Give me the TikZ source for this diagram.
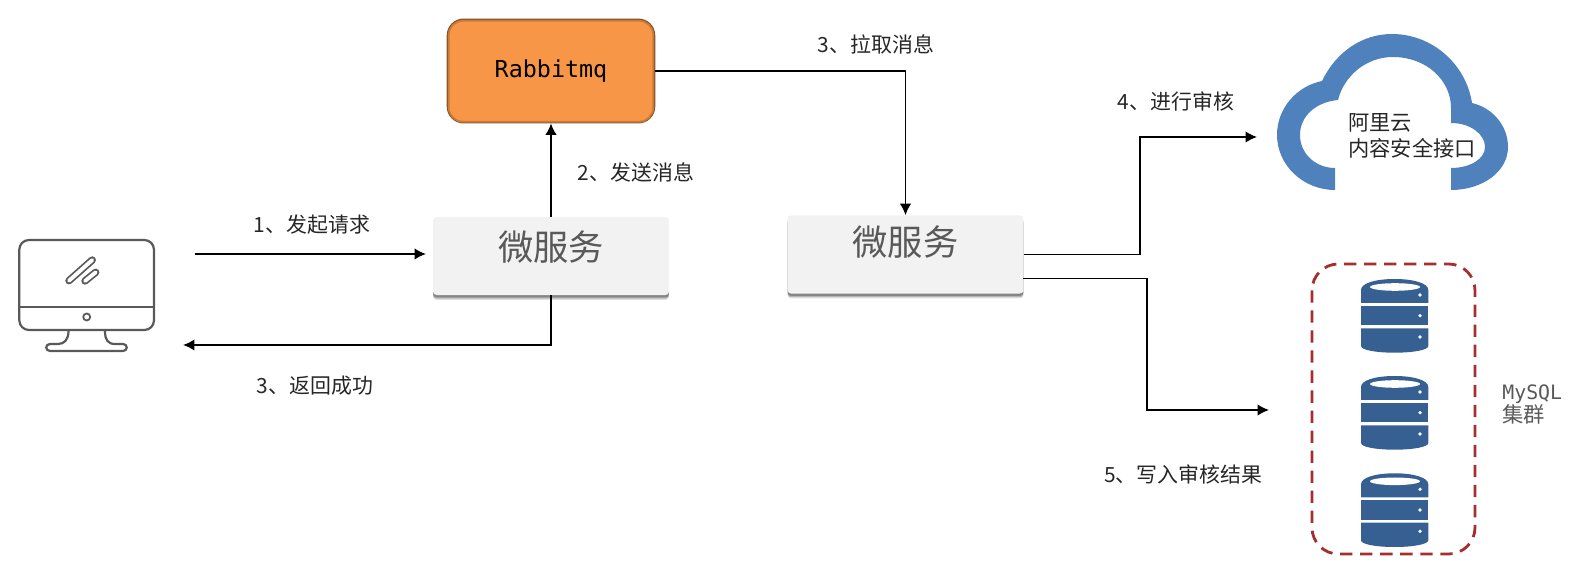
\documentclass[tikz,border=0pt]{standalone}
\usepackage{fontspec}
\setmainfont{Noto Sans CJK SC}
\setmonofont{DejaVu Sans Mono}
\usepackage{xcolor}
\usetikzlibrary{arrows, arrows.meta, shadows}
\definecolor{cloudblue}{HTML}{4F81BD}
\definecolor{dbblue}{HTML}{366092}
\definecolor{iconGray}{HTML}{595959}
\definecolor{frameRed}{HTML}{A52F2F}
\definecolor{mqOrange}{HTML}{F79646}
\tikzset{
  flow/.style={-{Latex[length=6.5pt,width=6.5pt]},line width=0.9pt,black},
  steplabel/.style={font=\fontsize{11.9}{14}\selectfont,text=black!85},
  svcbox/.style={fill=black!5,rounded corners=2pt,minimum width=134.3pt,minimum height=44.4pt,
    inner sep=0pt,text=iconGray,font=\fontsize{20.1}{24}\selectfont,text height=17pt,text depth=12pt,
    drop shadow={shadow xshift=0pt,shadow yshift=-2.8pt,opacity=.12,fill=black},
    drop shadow={shadow xshift=0pt,shadow yshift=-2.1pt,opacity=.2,fill=black},
    drop shadow={shadow xshift=0pt,shadow yshift=-1.4pt,opacity=.25,fill=black}},
  mqbox/.style={draw=mqOrange!55!black,line width=1.2pt,fill=mqOrange,rounded corners=9pt,
    minimum width=117.5pt,minimum height=58.5pt,font=\ttfamily\fontsize{13.3}{16}\selectfont},
  iconline/.style={draw=iconGray,line width=1.25pt},
}
\begin{document}
\begin{tikzpicture}[x=0.02cm,y=-0.02cm]
\useasboundingbox (0,0) rectangle (1582,570);
\node[mqbox] (rabbit) at (551,71) {Rabbitmq};
\draw[mqOrange!82!black,line width=1pt,rounded corners=8pt] (448.8,20.8) rectangle (653.2,121.7);
\node[svcbox] (svcA) at (551,256) {微服务};
\node[svcbox,text depth=16pt] (svcB) at (905.5,254.5) {微服务};
\coordinate (clientOut) at (195,254);
\coordinate (svcAin) at (426,254);
\coordinate (clientIn) at (183,345);
\coordinate (cloudIn) at (1257,137);
\coordinate (dbIn) at (1269,410);
\coordinate (svcBlow) at (1023,278.5);
\draw[flow] (clientOut) -- (svcAin);
\draw[flow] (svcA.north) -- (rabbit.south);
\draw[flow] (svcA.south) |- (clientIn);
\draw[flow] (rabbit.east) -| (svcB.north);
\draw[flow] (svcB.east) -- (1140,254.5) |- (cloudIn);
\draw[flow] (svcBlow) -- (1147,278.5) |- (dbIn);
\node[steplabel] (lblRequest) at (312,225) {1、发起请求};
\node[steplabel] (lblSend) at (636,172.5) {2、发送消息};
\node[steplabel] (lblReturn) at (315,386) {3、返回成功};
\node[steplabel] (lblPull) at (876,44) {3、拉取消息};
\node[steplabel] (lblAudit) at (1176,102) {4、进行审核};
\node[steplabel] (lblWrite) at (1183,474) {5、写入审核结果};
\draw[iconline,rounded corners=5.5pt] (19.3,240) rectangle (154,330);
\draw[iconline] (19.3,307) -- (154,307);
\draw[iconline,line width=1pt] (86.7,317) circle (3.5);
\draw[iconline,line join=round] (68.5,331) .. controls (68.5,340) and (64,344) .. (58,344) -- (50,344)
  .. controls (45,344) and (45,351) .. (50,351) -- (123,351) .. controls (128,351) and (128,344) .. (123,344)
  -- (115,344) .. controls (108,344) and (105,340) .. (105,331);
\draw[iconGray,line width=1pt,double=white,double distance=2.2pt,line cap=round] (69,280.7) -- (92.3,260);
\draw[iconGray,line width=1pt,double=white,double distance=2.2pt,line cap=round] (85,281) -- (95.7,272.3);
\fill[cloudblue] (1335,190) .. controls (1303,190) and (1277,165) .. (1277,135)
  .. controls (1277,108) and (1297,86) .. (1322,81)
  .. controls (1336,52) and (1362,34) .. (1392,34)
  .. controls (1432,34) and (1466,64) .. (1472,103)
  .. controls (1493,108) and (1508,126) .. (1508,147)
  .. controls (1508,172) and (1482,190) .. (1451,190)
  -- (1451,168) .. controls (1470,168) and (1485,159) .. (1485,147)
  .. controls (1485,134) and (1470,123) .. (1451,123)
  -- (1451,108) .. controls (1451,80) and (1426,57) .. (1393,57)
  .. controls (1366,57) and (1344,76) .. (1338,100)
  .. controls (1316,102) and (1300,116) .. (1300,135)
  .. controls (1300,154) and (1316,168) .. (1335,168) -- cycle;
\node[steplabel,align=left,font=\fontsize{12.1}{14.4}\selectfont] (lblCloud) at (1412,136) {阿里云\\内容安全接口};
\draw[frameRed,line width=1.6pt,dash pattern=on 7pt off 4.4pt,rounded corners=15pt] (1312,264) rectangle (1475,554);
\foreach \dy in {0,97,194.3} {
\begin{scope}[shift={(0,\dy)}]
\fill[dbblue] (1361,290) .. controls (1361,283) and (1376,279) .. (1394.7,279) .. controls (1413,279) and (1428.3,283) .. (1428.3,290) -- (1428.3,303) -- (1361,303) -- cycle;
\fill[white] (1395,287) ellipse [x radius=25,y radius=3.8];
\fill[dbblue] (1361,306) rectangle (1428.3,325.3);
\fill[dbblue] (1361,328.3) -- (1428.3,328.3) -- (1428.3,346) .. controls (1428.3,350) and (1413,352.7) .. (1394.7,352.7) .. controls (1376,352.7) and (1361,350) .. (1361,346) -- cycle;
\fill[white] (1420,295) circle (1.8);
\fill[white] (1420,315.7) circle (1.8);
\fill[white] (1420,337) circle (1.8);
\end{scope}
}
\node[anchor=west,align=left,text=iconGray,inner sep=0pt,font=\fontsize{12.1}{13.2}\selectfont] (lblMysql) at (1502,404.5) {{\ttfamily\fontsize{11.3}{13.2}\selectfont MySQL}\\集群};
\end{tikzpicture}
\end{document}
